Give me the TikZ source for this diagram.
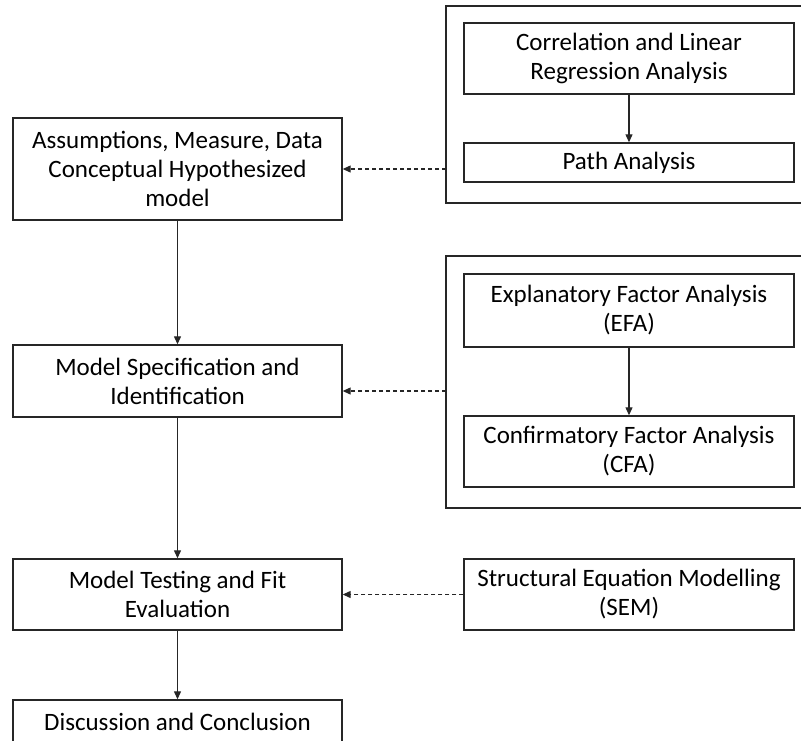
\documentclass[tikz,border=0pt]{standalone}
\usepackage{fontspec}
\setmainfont{Carlito}
\usepackage{tikz}
\usetikzlibrary{arrows.meta}
\definecolor{linegray}{gray}{0.15}

\begin{document}
\begin{tikzpicture}[x=1pt,y=-1pt,font=\fontsize{25}{29}\selectfont,
	stepbox/.style={draw=linegray,line width=1.4pt,rectangle,align=center,inner sep=0pt,minimum width=329pt},
	flow/.style={draw=linegray,line width=1.2pt,-{Triangle[length=8pt,width=7pt]}},
	feed/.style={flow,dash pattern=on 4pt off 3pt}]
			% page size
			\clip (0,0) rectangle (801,740);
			
			% draw group frames (open to the right)
			\draw[linegray,line width=1.4pt] (805,6) -- (446,6) -- (446,203) -- (805,203);
			\draw[linegray,line width=1.4pt] (805,256) -- (446,256) -- (446,508) -- (805,508);
			
			% draw main steps
			\node[stepbox,minimum height=102pt] (asm) at (177.5,169) {Assumptions, Measure, Data\\Conceptual Hypothesized\\model};
			\node[stepbox,minimum height=72pt] (spec) at (177.5,381) {Model Specification and\\Identification};
			\node[stepbox,minimum height=71pt] (test) at (177.5,594.5) {Model Testing and Fit\\Evaluation};
			\node[stepbox,minimum height=44pt] (disc) at (177.5,722) {Discussion and Conclusion};
			
			% draw methods
			\node[stepbox,minimum width=330pt,minimum height=71pt] (corr) at (629,58.5) {Correlation and Linear\\Regression Analysis};
			\node[stepbox,minimum width=330pt,minimum height=39pt] (path) at (629,162.5) {Path Analysis};
			\node[stepbox,minimum width=330pt,minimum height=73pt] (efa) at (629,310.5) {Explanatory Factor Analysis\\(EFA)};
			\node[stepbox,minimum width=330pt,minimum height=71pt] (cfa) at (629,451.5) {Confirmatory Factor Analysis\\(CFA)};
			\node[stepbox,minimum width=330pt,minimum height=71pt] (sem) at (629,594.5) {Structural Equation Modelling\\(SEM)};
			
			% frame entry points
			\coordinate (grpa) at (446,169);
			\coordinate (grpb) at (446,391);
			
			% draw arrows
			\draw[flow] (asm) -- (spec);
			\draw[flow] (spec) -- (test);
			\draw[flow] (test) -- (disc);
			\draw[flow] (corr) -- (path);
			\draw[flow] (efa) -- (cfa);
			\draw[feed] (grpa) -- (grpa -| asm.east);
			\draw[feed] (grpb) -- (grpb -| spec.east);
			\draw[feed] (sem) -- (test);
		\end{tikzpicture}
\end{document}
